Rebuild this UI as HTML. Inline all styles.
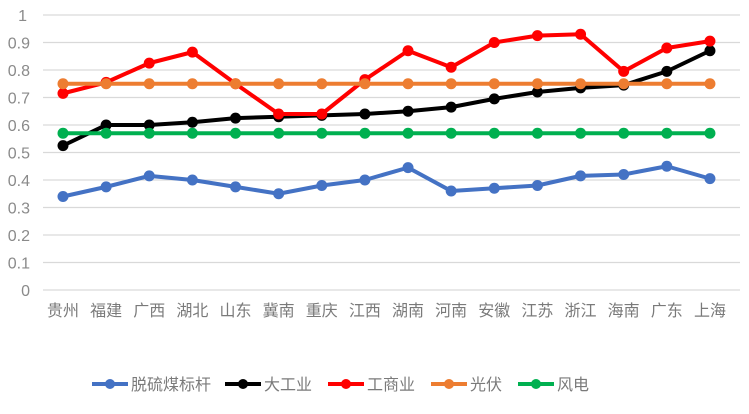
<!DOCTYPE html>
<html><head><meta charset="utf-8"><style>
body{margin:0;background:#fff;}
svg{display:block;font-family:"Liberation Sans","Noto Sans CJK SC",sans-serif;}
</style></head><body>
<svg id="c" width="749" height="414" xmlns="http://www.w3.org/2000/svg"></svg>
<script>
const s=document.getElementById('c');let h='';
const X=i=>63+i*43.13, Y=v=>290-v*275;
for(let k=0;k<=10;k++){const y=Y(k/10);
 h+=`<line x1="43" x2="740" y1="${y}" y2="${y}" stroke="#d9d9d9" stroke-width="1.3"/>`;
 h+=`<text x="${k==10?27:30}" y="${y+6}" text-anchor="end" font-size="16" fill="#8a8a8a">${k==10?'1':k==0?'0':(k/10).toFixed(1)}</text>`;}
const cats=['贵州','福建','广西','湖北','山东','冀南','重庆','江西','湖南','河南','安徽','江苏','浙江','海南','广东','上海'];
cats.forEach((c,i)=>h+=`<text x="${X(i)}" y="316" text-anchor="middle" font-size="16" fill="#7a7a7a">${c}</text>`);
const S=[
['#4472c4',[0.34,0.375,0.415,0.40,0.375,0.35,0.38,0.40,0.445,0.36,0.37,0.38,0.415,0.42,0.45,0.405]],
['#ed7d31',Array(16).fill(0.75)],
['#00b050',Array(16).fill(0.57)],
['#000000',[0.525,0.60,0.60,0.61,0.625,0.63,0.635,0.64,0.65,0.665,0.695,0.72,0.735,0.745,0.795,0.87]],
['#ff0000',[0.715,0.755,0.825,0.865,0.75,0.64,0.64,0.765,0.87,0.81,0.90,0.925,0.93,0.795,0.88,0.905]]];
const order=[0,3,4,1,2];
order.forEach(j=>{const [c,d]=S[j];
 h+=`<polyline fill="none" stroke="${c}" stroke-width="4" stroke-linejoin="round" points="${d.map((v,i)=>X(i)+','+Y(v)).join(' ')}"/>`;
 d.forEach((v,i)=>h+=`<circle cx="${X(i)}" cy="${Y(v)}" r="5.5" fill="${c}"/>`);});
const L=[['#4472c4','脱硫煤标杆',92],['#000000','大工业',225],['#ff0000','工商业',328],['#ed7d31','光伏',431],['#00b050','风电',518]];
L.forEach(([c,t,x])=>{h+=`<line x1="${x}" x2="${x+36}" y1="384" y2="384" stroke="${c}" stroke-width="4"/><circle cx="${x+18}" cy="384" r="5" fill="${c}"/><text x="${x+39}" y="390" font-size="16" fill="#7a7a7a">${t}</text>`;});
s.innerHTML=h;
</script>
</body></html>
